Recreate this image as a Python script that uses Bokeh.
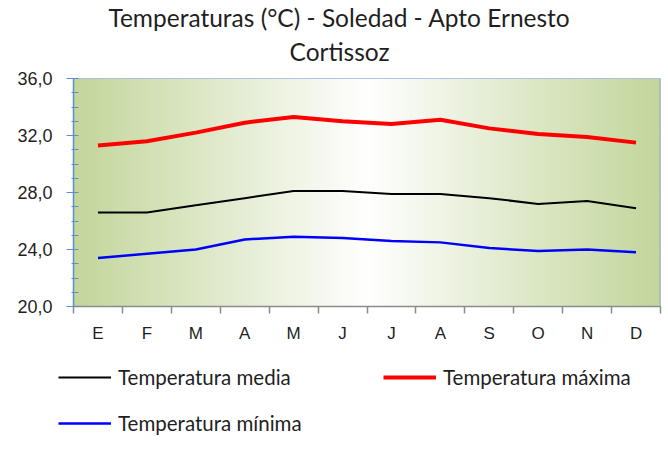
import numpy as np
from bokeh.plotting import figure
from bokeh.layouts import column
from bokeh.models import (Range1d, FixedTicker, CustomJSTickFormatter, Span, Label,
                          Legend, LegendItem)
from bokeh.embed import file_html
from bokeh.resources import INLINE

# ---- data ----
months = ["E", "F", "M", "A", "M", "J", "J", "A", "S", "O", "N", "D"]
t_media = [26.6, 26.6, 27.1, 27.6, 28.1, 28.1, 27.9, 27.9, 27.6, 27.2, 27.4, 26.9]
t_maxima = [31.3, 31.6, 32.2, 32.9, 33.3, 33.0, 32.8, 33.1, 32.5, 32.1, 31.9, 31.5]
t_minima = [23.4, 23.7, 24.0, 24.7, 24.9, 24.8, 24.6, 24.5, 24.1, 23.9, 24.0, 23.8]
y_ticks = [20, 24, 28, 32, 36]
title_lines = ["Temperaturas (°C) - Soledad - Apto Ernesto", "Cortissoz"]
series_names = ["Temperatura media", "Temperatura máxima", "Temperatura mínima"]

x = [i + 0.5 for i in range(len(months))]
series = [t_media, t_maxima, t_minima]

FONT_T = "Lato"
FONT_A = "Liberation Sans"
TXT = "#1f1f1f"
W = 662


def no_align(fig):
    if "frame_align" in fig.properties():
        fig.frame_align = False


# ---- title figure ----
pt = figure(width=W, height=70, output_backend="svg", toolbar_location=None,
            x_axis_type=None, y_axis_type=None, min_border=0,
            x_range=Range1d(0, 1), y_range=Range1d(0, 1))
no_align(pt)
pt.outline_line_color = None
pt.grid.visible = False
pt.add_layout(Label(x=339, y=53, x_units="screen", y_units="screen", text=title_lines[0],
                    text_align="center", text_baseline="alphabetic", text_font=FONT_T,
                    text_font_size="24.5px", text_color=TXT))
pt.add_layout(Label(x=339, y=19, x_units="screen", y_units="screen", text=title_lines[1],
                    text_align="center", text_baseline="alphabetic", text_font=FONT_T,
                    text_font_size="24.5px", text_color=TXT))

# ---- main figure ----
p = figure(width=W, height=286, output_backend="svg", toolbar_location=None,
           x_range=Range1d(0, 12), y_range=Range1d(20, 36),
           min_border_left=73, min_border_right=2, min_border_top=8, min_border_bottom=50)
no_align(p)
p.background_fill_color = "white"
p.border_fill_color = "white"
p.outline_line_color = None

# gradient background of plot area
N = 400
tt = np.abs(np.linspace(0, 1, N) - 0.5) * 2
edge = np.array([195, 214, 155])
rgb = (255 * (1 - tt)[:, None] + edge[None, :] * tt[:, None]).astype(np.uint8)
img = np.empty((1, N), dtype=np.uint32)
view = img.view(dtype=np.uint8).reshape((1, N, 4))
view[0, :, 0:3] = rgb
view[0, :, 3] = 255
p.image_rgba(image=[img], x=0, y=20, dw=12, dh=16)

# grid
p.xgrid.visible = False
p.ygrid.ticker = FixedTicker(ticks=[24, 28, 32])
p.ygrid.grid_line_color = "#8c8c8c"
p.ygrid.grid_line_width = 1

# borders top/right
p.add_layout(Span(location=36, dimension="width", line_color="#5b8fd0", line_width=1))
p.add_layout(Span(location=12, dimension="height", line_color="#5b8fd0", line_width=1.5))

# y axis
p.yaxis.ticker = FixedTicker(ticks=y_ticks, minor_ticks=list(range(20, 37)))
p.yaxis.formatter = CustomJSTickFormatter(code="return tick.toFixed(1).replace('.', ',');")
p.yaxis.axis_line_color = "#5b8fd0"
p.yaxis.axis_line_width = 1.5
p.yaxis.major_tick_line_color = "#5b8fd0"
p.yaxis.minor_tick_line_color = "#5b8fd0"
p.yaxis.major_tick_out = 7
p.yaxis.major_tick_in = 0
p.yaxis.minor_tick_out = 2
p.yaxis.minor_tick_in = 5
p.yaxis.major_label_standoff = 14
p.yaxis.major_label_text_font = FONT_A
p.yaxis.major_label_text_font_size = "18px"
p.yaxis.major_label_text_color = TXT

# x axis
p.xaxis.ticker = FixedTicker(ticks=x, minor_ticks=list(range(0, 13)))
p.xaxis.major_label_overrides = {xi: m for xi, m in zip(x, months)}
p.xaxis.axis_line_color = "#8c8c8c"
p.xaxis.axis_line_width = 1.5
p.xaxis.major_tick_out = 0
p.xaxis.major_tick_in = 0
p.xaxis.minor_tick_line_color = "#8c8c8c"
p.xaxis.minor_tick_line_width = 1.5
p.xaxis.minor_tick_out = 7
p.xaxis.minor_tick_in = 0
p.xaxis.major_label_standoff = 10
p.xaxis.major_label_text_font = FONT_A
p.xaxis.major_label_text_font_size = "17px"
p.xaxis.major_label_text_color = TXT

# series
colors = ["black", "#ff0000", "#0000ff"]
widths = [2, 4, 2.5]
for vals, c, w in zip(series, colors, widths):
    p.line(x, vals, line_color=c, line_width=w)

# ---- legend figure (series drawn off-view, only their legend glyphs show) ----
pl = figure(width=W, height=98, output_backend="svg", toolbar_location=None,
            x_axis_type=None, y_axis_type=None, min_border=0,
            x_range=Range1d(0, 1), y_range=Range1d(0, 1))
no_align(pl)
pl.outline_line_color = None
pl.grid.visible = False
items = []
for name, vals, c, w in zip(series_names, series, colors, widths):
    r = pl.line(x, vals, line_color=c, line_width=w)
    items.append(LegendItem(label=name, renderers=[r]))
legend = Legend(items=items, location=(58, 11), orientation="horizontal", ncols=2,
                glyph_width=53, glyph_height=40, label_height=40, label_width=259,
                label_standoff=7, spacing=6, padding=0, margin=0,
                border_line_color=None, background_fill_alpha=0,
                label_text_font=FONT_T, label_text_font_size="20.5px",
                label_text_color=TXT)
pl.add_layout(legend)

layout = column(pt, p, pl, spacing=0)
open("out.html", "w").write(file_html(layout, INLINE))
